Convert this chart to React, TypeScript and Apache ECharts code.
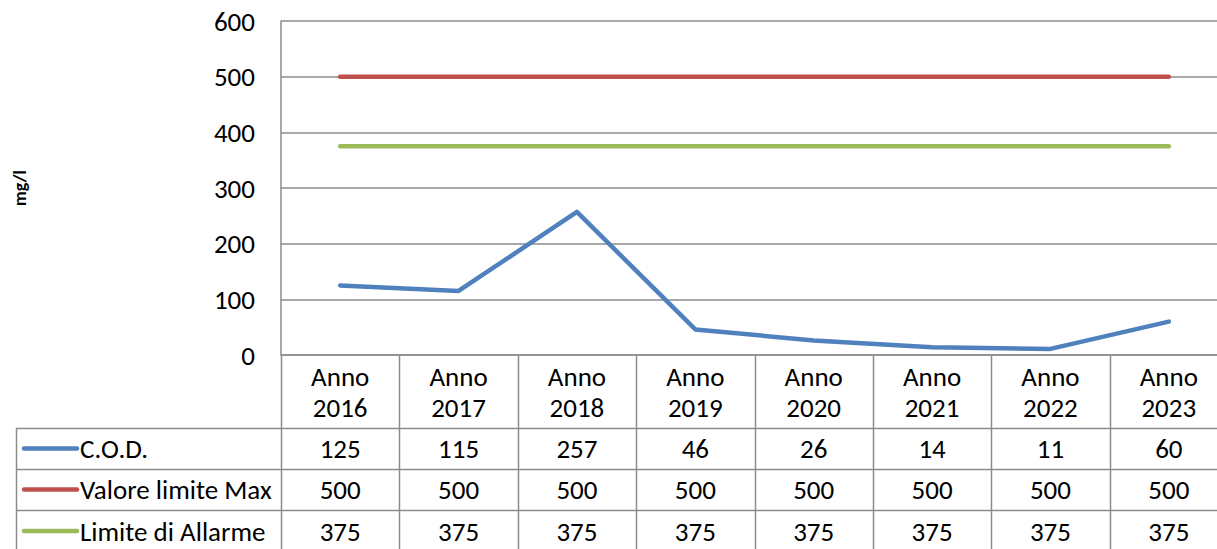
import React, { useEffect, useRef } from "react";
import * as echarts from "echarts";

const categories = ["Anno\n2016", "Anno\n2017", "Anno\n2018", "Anno\n2019", "Anno\n2020", "Anno\n2021", "Anno\n2022", "Anno\n2023"];
const codValues = [125, 115, 257, 46, 26, 14, 11, 60];
const maxValues = [500, 500, 500, 500, 500, 500, 500, 500];
const alarmValues = [375, 375, 375, 375, 375, 375, 375, 375];
const seriesNames = ["C.O.D.", "Valore limite Max", "Limite di Allarme"];
const seriesColors = ["#4F81BD", "#C0504D", "#9BBB59"];
const yTicks = { min: 0, max: 600, interval: 100 };
const yTitle = "mg/l";

const FONT = "Carlito, Calibri, Lato, 'Open Sans', sans-serif";
const FS = 27;
const W = 1217;
const H = 549;
const INNER_W = 1232;
const GRID_LEFT = 281;
const GRID_TOP = 21;
const GRID_BOTTOM_Y = 355;
const GRID_WIDTH = 947;
const GRID_COLOR = "#8C8C8C";
const ROW_LINES = [428, 469, 510];
const TABLE_LEFT = 16;

export default function App() {
  const ref = useRef<HTMLDivElement>(null);
  useEffect(() => {
    if (!ref.current) return;
    const chart = echarts.init(ref.current, null, { renderer: "svg" });
    const allSeries = [codValues, maxValues, alarmValues];
    const cellW = GRID_WIDTH / categories.length;
    const graphics: any[] = [];
    for (let i = 0; i <= categories.length; i++) {
      const x = Math.round(GRID_LEFT + i * cellW) + 0.5;
      if (x > W) break;
      graphics.push({
        type: "line",
        shape: { x1: x, y1: GRID_BOTTOM_Y, x2: x, y2: H },
        style: { stroke: GRID_COLOR, lineWidth: 1.5 },
        silent: true,
      });
    }
    graphics.push({
      type: "line",
      shape: { x1: TABLE_LEFT + 0.5, y1: ROW_LINES[0], x2: TABLE_LEFT + 0.5, y2: H },
      style: { stroke: GRID_COLOR, lineWidth: 1.5 },
      silent: true,
    });
    ROW_LINES.forEach((y) => {
      graphics.push({
        type: "line",
        shape: { x1: TABLE_LEFT, y1: y + 0.5, x2: INNER_W, y2: y + 0.5 },
        style: { stroke: GRID_COLOR, lineWidth: 1.5 },
        silent: true,
      });
    });
    allSeries.forEach((vals, r) => {
      const top = ROW_LINES[r];
      const bottom = r + 1 < ROW_LINES.length ? ROW_LINES[r + 1] : H + 3;
      const cy = (top + bottom) / 2;
      graphics.push({
        type: "line",
        shape: { x1: 24, y1: cy, x2: 77, y2: cy },
        style: { stroke: seriesColors[r], lineWidth: 4.5, lineCap: "round" },
        silent: true,
      });
      graphics.push({
        type: "text",
        x: 80,
        y: cy,
        style: {
          text: seriesNames[r],
          fill: "#000",
          font: `${FS}px ${FONT}`,
          textAlign: "left",
          textVerticalAlign: "middle",
        },
        silent: true,
      });
      vals.forEach((v, i) => {
        graphics.push({
          type: "text",
          x: GRID_LEFT + (i + 0.5) * cellW,
          y: cy,
          style: {
            text: String(v),
            fill: "#000",
            font: `${FS}px ${FONT}`,
            textAlign: "center",
            textVerticalAlign: "middle",
          },
          silent: true,
        });
      });
    });

    chart.setOption({
      animation: false,
      textStyle: { fontFamily: FONT },
      grid: {
        left: GRID_LEFT,
        top: GRID_TOP,
        width: GRID_WIDTH,
        height: GRID_BOTTOM_Y - GRID_TOP,
        containLabel: false,
      },
      xAxis: {
        type: "category",
        data: categories,
        boundaryGap: true,
        axisLine: { show: true, lineStyle: { color: GRID_COLOR, width: 1.5 } },
        axisTick: { show: false },
        axisLabel: {
          color: "#000",
          fontSize: FS,
          fontFamily: FONT,
          lineHeight: 31,
          margin: 6,
          interval: 0,
        },
      },
      yAxis: {
        type: "value",
        min: yTicks.min,
        max: yTicks.max,
        interval: yTicks.interval,
        name: yTitle,
        nameLocation: "middle",
        nameRotate: 90,
        nameGap: 252,
        nameTextStyle: { color: "#000", fontSize: 18, fontWeight: "bold", fontFamily: FONT },
        axisLine: { show: true, lineStyle: { color: GRID_COLOR, width: 1.5 } },
        axisTick: { show: false },
        axisLabel: { color: "#000", fontSize: FS, fontFamily: FONT, margin: 26 },
        splitLine: { show: true, lineStyle: { color: GRID_COLOR, width: 1.5 } },
      },
      series: allSeries.map((vals, i) => ({
        name: seriesNames[i],
        type: "line",
        data: vals,
        showSymbol: false,
        symbol: "none",
        lineStyle: { color: seriesColors[i], width: 4.5, cap: "round", join: "round" },
        itemStyle: { color: seriesColors[i] },
      })),
      graphic: graphics,
    });
    return () => chart.dispose();
  }, []);
  return (
    <div
      style={{ position: "fixed", left: 0, top: 0, width: W, height: H, overflow: "hidden", background: "#fff" }}
    >
      <div ref={ref} style={{ width: INNER_W, height: H }} />
    </div>
  );
}
